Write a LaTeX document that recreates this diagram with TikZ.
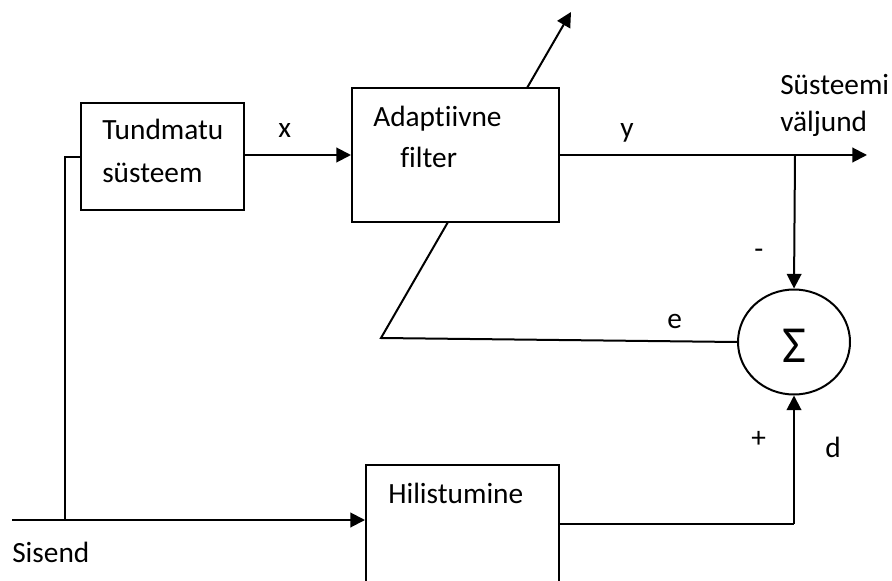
\documentclass[tikz,border=0pt]{standalone}
\usepackage{fontspec}
\setmainfont[Ligatures=NoCommon]{Carlito}
\usetikzlibrary{arrows.meta,shapes.geometric}
\begin{document}
\begin{tikzpicture}[x=0.75pt,y=-0.75pt,
  wire/.style={line width=1.5pt,line cap=butt},
  arr/.style={wire,-{Triangle[length=11pt,width=11pt]}},
  blockbox/.style={draw,line width=1.5pt,inner sep=0pt},
  lbl/.style={anchor=base west,inner sep=0pt,font=\fontsize{22}{26}\selectfont}]
\clip (0,0) rectangle (892,581);
\useasboundingbox (0,0) rectangle (892,581);

% blocks
\node[blockbox,minimum width=163*0.75pt,minimum height=107*0.75pt] (tund) at (162.5,156.5) {};
\node[blockbox,minimum width=207*0.75pt,minimum height=134*0.75pt] (adapt) at (455.5,155) {};
\node[blockbox,minimum width=193*0.75pt,minimum height=190*0.75pt] (hil) at (462.5,560) {};
\node[draw,ellipse,line width=1.5pt,minimum width=112*0.75pt,minimum height=105*0.75pt,inner sep=0pt] (sum) at (794,342) {};
\node[font=\fontsize{39}{42}\selectfont,inner sep=0pt] (sig) at (794,346) {Σ};

% block texts
\node[lbl] (t1) at (102,140) {Tundmatu};
\node[lbl] (t2) at (102,182) {süsteem};
\node[lbl] (a1) at (373,127) {Adaptiivne};
\node[lbl] (a2) at (400,167) {filter};
\node[lbl] (h1) at (388,503) {Hilistumine};

% signal labels
\node[lbl] (lx) at (278,138) {x};
\node[lbl] (ly) at (620,138) {y};
\node[lbl] (lo1) at (780,95) {Süsteemi};
\node[lbl] (lo2) at (780,132) {väljund};
\node[lbl] (lm) at (754,258) {-};
\node[lbl] (le) at (667,328) {e};
\node[lbl] (lp) at (751,447) {+};
\node[lbl] (ld) at (825,457) {d};
\node[lbl] (ls) at (12,562) {Sisend};

% connection points
\coordinate (in) at (12,520);
\coordinate (split) at (65,520);
\coordinate (ybr) at (795,155);
\coordinate (yout) at (867,155);
\coordinate (dcorner) at (794,524);
\coordinate (ecorner) at (381,338);
\coordinate (efoot) at (448,222);
\coordinate (tilt0) at (527,88);
\coordinate (tilt1) at (571,12);

% wiring
\draw[arr] (in) -- (in -| hil.west);
\draw[wire] (split) -- (65,157) -- (tund.west |- 0,157);
\draw[arr] (tund.east |- 0,155) -- (adapt.west |- 0,155);
\draw[arr] (adapt.east |- 0,155) -- (yout);
\draw[arr] (ybr) -- (sum.north);
\draw[wire] (hil.east |- dcorner) -- (dcorner);
\draw[arr] (dcorner) -- (sum.south);
\draw[wire,line join=miter] (sum.west) -- (ecorner) -- (efoot);
\draw[arr] (tilt0) -- (tilt1);
\end{tikzpicture}
\end{document}
